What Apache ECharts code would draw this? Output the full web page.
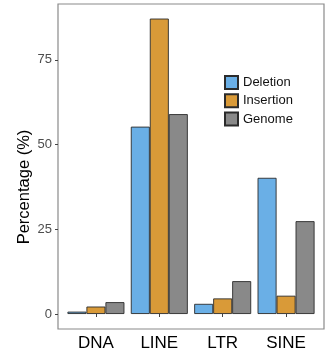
<!DOCTYPE html>
<html><head><meta charset="utf-8">
<script src="https://cdn.jsdelivr.net/npm/echarts@6/dist/echarts.min.js"></script>
<style>html,body{margin:0;padding:0;background:#fff}#c{width:325px;height:355px}</style>
</head><body><div id="c"></div>
<script>
const categories = ['DNA', 'LINE', 'LTR', 'SINE'];
const deletion = [0.7, 55.3, 3.0, 40.2];
const insertion = [2.2, 87.2, 4.6, 5.4];
const genome = [3.5, 59.0, 9.7, 27.4];
const yTicks = [0, 25, 50, 75];

const font = '"Liberation Sans", Arial, sans-serif';
const chart = echarts.init(document.getElementById('c'));
const border = {borderColor: '#2b2b2b', borderWidth: 0.9};
chart.setOption({
  animation: false,
  textStyle: {fontFamily: font},
  grid: [
    {left: 58, right: 1, top: 4, bottom: 26, show: true, borderColor: '#8a8a8a', borderWidth: 1.2, backgroundColor: 'transparent'},
    {left: 64.25, right: 7.25, top: 4, bottom: 41}
  ],
  xAxis: [
    {gridIndex: 0, type: 'value', show: false},
    {gridIndex: 1, type: 'category', data: categories, offset: 15,
     axisLine: {show: false},
     axisTick: {show: true, alignWithLabel: true, length: 3, lineStyle: {color: '#444'}},
     axisLabel: {fontSize: 17, color: '#000', margin: 6, fontFamily: font}}
  ],
  yAxis: [
    {gridIndex: 0, type: 'value', show: false},
    {gridIndex: 1, type: 'value', min: 0, max: 91.5, offset: 6.25,
     name: 'Percentage (%)', nameLocation: 'middle', nameGap: 25, nameMoveOverlap: false,
     nameTextStyle: {fontSize: 16.5, color: '#000', fontFamily: font, padding: [0, 56, 0, 0]},
     axisLine: {show: false},
     splitLine: {show: false},
     axisTick: {show: true, length: 3, lineStyle: {color: '#444'}, customValues: yTicks},
     axisLabel: {fontSize: 13, color: '#4d4d4d', margin: 6, fontFamily: font, customValues: yTicks}}
  ],
  legend: {
    orient: 'vertical', left: 224, top: 75, padding: 0,
    itemWidth: 13, itemHeight: 13, itemGap: 3.3,
    icon: 'rect',
    textStyle: {fontSize: 13, color: '#111', fontFamily: font}
  },
  series: [
    {name: 'Deletion', type: 'bar', xAxisIndex: 1, yAxisIndex: 1, data: deletion, barWidth: 19, barGap: '0%',
     itemStyle: Object.assign({color: '#6aafe6'}, border)},
    {name: 'Insertion', type: 'bar', xAxisIndex: 1, yAxisIndex: 1, data: insertion, barWidth: 19, barGap: '0%',
     itemStyle: Object.assign({color: '#d99a38'}, border)},
    {name: 'Genome', type: 'bar', xAxisIndex: 1, yAxisIndex: 1, data: genome, barWidth: 19, barGap: '0%',
     itemStyle: Object.assign({color: '#898989'}, border)}
  ]
});
</script></body></html>
